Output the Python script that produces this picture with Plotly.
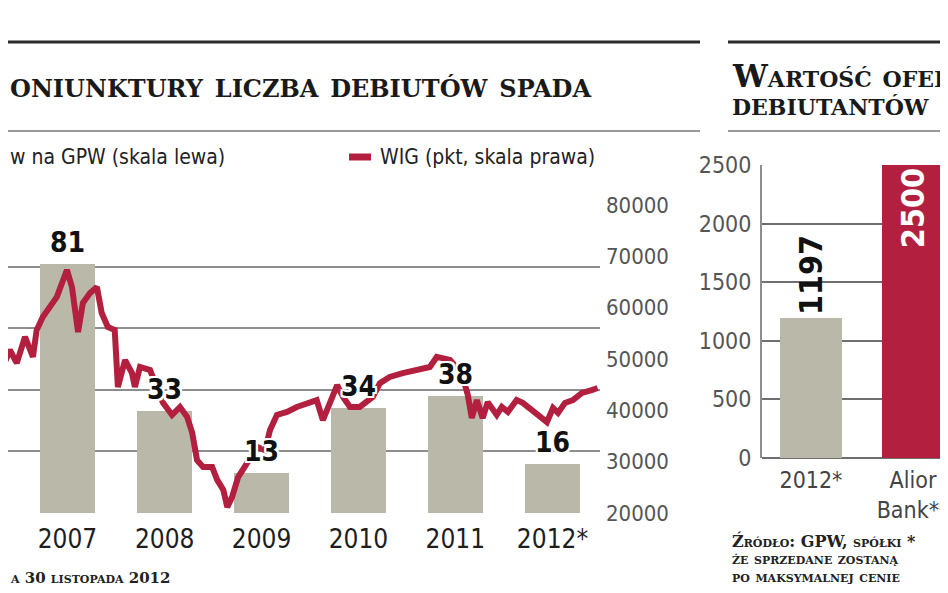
import plotly.graph_objects as go

# Left panel: number of IPOs on GPW (bars, left scale) and WIG index (line, right scale)
years = ["2007", "2008", "2009", "2010", "2011", "2012*"]
year_mid = ["2007-07-02", "2008-07-02", "2009-07-02", "2010-07-02", "2011-07-02", "2012-07-02"]
debuts = [81, 33, 13, 34, 38, 16]

wig_dates = [
    "2006-10-20", "2006-11-27", "2006-12-23", "2007-01-23", "2007-02-22", "2007-03-08",
    "2007-03-31", "2007-04-27", "2007-05-23", "2007-06-30", "2007-07-19", "2007-08-11",
    "2007-08-29", "2007-09-25", "2007-10-21", "2007-11-08", "2007-12-01", "2007-12-27",
    "2008-01-08", "2008-02-04", "2008-03-01", "2008-03-12", "2008-03-31", "2008-05-08",
    "2008-06-26", "2008-07-30", "2008-08-29", "2008-09-25", "2008-10-14", "2008-11-01",
    "2008-11-24", "2008-12-28", "2009-01-16", "2009-02-08", "2009-02-23", "2009-03-13",
    "2009-04-05", "2009-05-09", "2009-06-16", "2009-07-15", "2009-08-03", "2009-08-29",
    "2009-10-06", "2009-11-12", "2009-12-19", "2010-01-26", "2010-02-18", "2010-03-16",
    "2010-04-13", "2010-05-05", "2010-05-31", "2010-07-07", "2010-08-25", "2010-09-21",
    "2010-10-28", "2010-12-16", "2011-02-07", "2011-03-28", "2011-04-23", "2011-06-12",
    "2011-07-26", "2011-08-18", "2011-09-02", "2011-09-21", "2011-10-13", "2011-11-01",
    "2011-12-05", "2011-12-24", "2012-01-16", "2012-02-18", "2012-03-12", "2012-04-08",
    "2012-05-08", "2012-06-11", "2012-07-04", "2012-07-23", "2012-08-18", "2012-09-17",
    "2012-10-21", "2012-11-27", "2012-12-19",
]
wig_values = [
    46900, 51750, 49200, 54300, 50400, 55650,
    58200, 60100, 62100, 67350, 64000, 55250,
    60900, 62850, 64000, 58950, 56250, 55650,
    44550, 49800, 47250, 44550, 48450, 47850,
    41450, 39100, 40650, 38700, 35600, 30300,
    28950, 28950, 26450, 24500, 21150, 23100,
    27000, 29750, 32850, 32250, 36150, 39100,
    39700, 40650, 41450, 42000, 38100, 41450,
    44900, 42600, 40650, 40650, 42600, 45300,
    46500, 47250, 47850, 48450, 50400, 49800,
    47250, 43000, 38500, 42000, 38500, 41600,
    39100, 40650, 39700, 42000, 41450, 40450,
    39100, 37700, 40450, 39500, 41450, 42000,
    43400, 43950, 44350,
]

# Right panel: offer value of debutants (mln zł)
offer_labels = ["2012*", "Alior<br>Bank**"]
offer_values = [1197, 2500]

GREY_BAR = "#bab9a9"
RED = "#b3203f"
SERIF = "DejaVu Serif"
NARROW = "DejaVu Sans Condensed, Liberation Sans Narrow, sans-serif"
HALO = ("2px 2px 0 #fff, -2px -2px 0 #fff, 2px -2px 0 #fff, -2px 2px 0 #fff, "
        "0 2px 0 #fff, 0 -2px 0 #fff, 2px 0 0 #fff, -2px 0 0 #fff")

# the page body has an 8px margin, so the figure is drawn 8px in from the corner
OFF = 8
W, H = 948 - OFF, 593 - OFF


def px_x(x):
    return (x - OFF) / W


def px_y(y):
    return 1 - (y - OFF) / H


fig = go.Figure()

fig.add_trace(go.Bar(
    x=year_mid, y=debuts, width=207 * 86400000,
    marker=dict(color=GREY_BAR, line=dict(width=0)),
    xaxis="x", yaxis="y", hoverinfo="skip",
))
fig.add_trace(go.Scatter(
    x=wig_dates, y=wig_values, mode="lines",
    line=dict(color=RED, width=6),
    xaxis="x", yaxis="y2", hoverinfo="skip",
))
fig.add_trace(go.Bar(
    x=offer_labels, y=offer_values, width=0.61,
    marker=dict(color=[GREY_BAR, RED], line=dict(width=0)),
    text=[str(v) for v in offer_values], textangle=-90,
    textposition=["outside", "inside"], insidetextanchor="end", constraintext="none",
    textfont=dict(family=NARROW, size=32, color=["#111", "#fff"], weight="bold"),
    cliponaxis=False,
    xaxis="x3", yaxis="y3", hoverinfo="skip",
))

annotations = []
for x, v in zip(year_mid, debuts):
    annotations.append(dict(
        x=x, y=v, xref="x", yref="y", text=str(v), showarrow=False,
        yanchor="bottom", yshift=3,
        font=dict(family=NARROW, size=28, color="#111", weight="bold", shadow=HALO),
    ))


def note(x, y, text, family, size, color="#1a1a1a", bold=False, caps=False):
    font = dict(family=family, size=size, color=color)
    if bold:
        font["weight"] = "bold"
    if caps:
        font["variant"] = "small-caps"
    return dict(x=px_x(x), y=px_y(y), xref="paper", yref="paper",
                xanchor="left", yanchor="middle", text=text, showarrow=False, font=font)


annotations += [
    note(8, 85, "oniunktury liczba debiutów spada", SERIF, 34, bold=True, caps=True),
    note(730, 76, "Wartość ofert", SERIF, 31, bold=True, caps=True),
    note(730, 104, "debiutantów", SERIF, 31, bold=True, caps=True),
    note(8, 157, "w na GPW (skala lewa)", NARROW, 21, color="#222"),
    note(378, 157, "WIG (pkt, skala prawa)", NARROW, 21, color="#222"),
    note(8, 578, "a 30 listopada 2012", SERIF, 15, color="#222", bold=True, caps=True),
    note(730, 541, "Źródło: GPW, spółki *", SERIF, 16, color="#222", bold=True, caps=True),
    note(730, 558, "że sprzedane zostaną", SERIF, 16, color="#222", bold=True, caps=True),
    note(730, 576, "po maksymalnej cenie", SERIF, 16, color="#222", bold=True, caps=True),
]


def hline(x0, x1, y, color, width):
    return dict(type="line", xref="paper", yref="paper", x0=px_x(x0), x1=px_x(x1),
                y0=px_y(y), y1=px_y(y), line=dict(color=color, width=width))


shapes = [
    hline(0, 700, 42, "#2b2b2b", 3),
    hline(728, 948, 42, "#2b2b2b", 3),
    hline(0, 700, 131, "#9a9a9a", 2),
    hline(728, 948, 131, "#9a9a9a", 2),
    hline(349, 371, 157, RED, 7),
]

fig.update_layout(
    width=W, height=H,
    margin=dict(l=0, r=0, t=0, b=0, autoexpand=False),
    paper_bgcolor="white", plot_bgcolor="rgba(0,0,0,0)",
    showlegend=False, bargap=0,
    annotations=annotations, shapes=shapes,
    xaxis=dict(
        domain=[0, px_x(600)], type="date", range=["2006-11-20", "2012-12-28"],
        tickvals=year_mid, ticktext=years, showgrid=False, zeroline=False,
        tickfont=dict(family=NARROW, size=26, color="#1e1e1e"), ticks="",
        ticklabelstandoff=8, automargin=False,
    ),
    yaxis=dict(
        domain=[px_y(513), px_y(205)], range=[0, 100], dtick=20,
        showgrid=True, gridcolor="#8d8d8d", gridwidth=2,
        showticklabels=False, zeroline=False, ticks="", automargin=False,
    ),
    yaxis2=dict(
        overlaying="y", side="right", anchor="x", range=[20000, 80000], dtick=10000,
        showgrid=False, zeroline=False, ticks="", tickformat="d",
        tickfont=dict(family=NARROW, size=22, color="#555"), ticklabelstandoff=5,
        automargin=False,
    ),
    xaxis3=dict(
        domain=[px_x(762), 1], anchor="y3", type="category", range=[-0.48, 1.343],
        showgrid=False, zeroline=False, ticks="",
        tickfont=dict(family=NARROW, size=23, color="#444"), ticklabelstandoff=6,
        automargin=False,
    ),
    yaxis3=dict(
        domain=[px_y(458), px_y(165)], anchor="x3", range=[0, 2500], dtick=500,
        showgrid=True, gridcolor="#6f6f6f", gridwidth=1.5,
        showline=True, linecolor="#8d8d8d", linewidth=2,
        zeroline=True, zerolinecolor="#6f6f6f", zerolinewidth=2,
        ticks="", tickformat="d",
        tickfont=dict(family=NARROW, size=23, color="#555"), ticklabelstandoff=4,
        automargin=False,
    ),
)

fig.write_html("out.html")
